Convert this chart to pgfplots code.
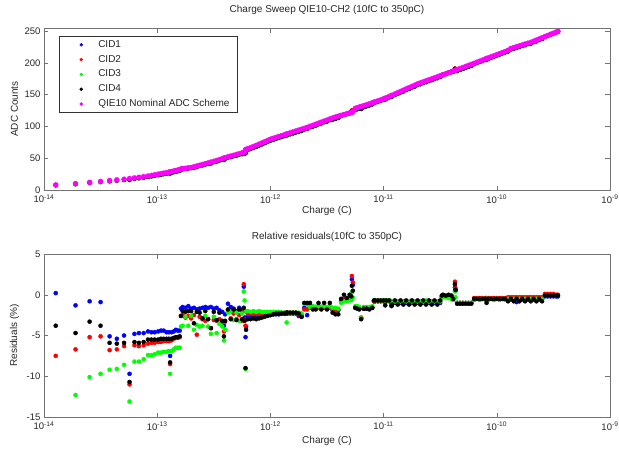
\documentclass[border=0pt]{standalone}
\usepackage{fontspec}
\setmainfont{Liberation Sans}
\usepackage{pgfplots}
\usepackage{pgfplotstable}
\pgfplotsset{compat=1.18}
\definecolor{axgray}{gray}{0.45}
\definecolor{txt}{gray}{0.15}
\definecolor{cidblue}{rgb}{0,0,1}
\definecolor{cidred}{rgb}{1,0,0}
\definecolor{cidgreen}{rgb}{0,1,0}
\definecolor{nommag}{rgb}{1,0,1}

\pgfplotstableread{
x nom a1 a2 a3 a4 r1 r2 r3 r4
1.27e-14 8.0 8.0 7.4 nan 7.7 0.2 -7.5 nan -3.8
1.9e-14 10.0 9.9 9.3 8.8 9.5 -1.3 -6.7 -12.3 -4.7
2.53e-14 12.0 11.9 11.4 10.8 11.6 -0.8 -5.2 -10.1 -3.3
3.16e-14 13.5 13.4 12.8 12.2 13.0 -0.9 -5.1 -9.7 -3.8
3.8e-14 15.0 14.2 14.0 13.6 14.1 -5.1 -6.8 -9.2 -5.9
4.4e-14 16.0 15.1 14.9 14.5 15.0 -5.4 -6.7 -9.1 -6.0
5.1e-14 17.0 16.2 15.9 15.5 16.0 -5.0 -6.3 -8.6 -5.9
5.7e-14 18.0 16.3 16.0 15.6 16.1 -9.7 -11.0 -13.1 -10.7
6.3e-14 19.0 18.1 17.8 17.4 17.9 -4.8 -6.2 -8.2 -5.8
6.9e-14 20.0 19.1 18.7 18.4 18.8 -4.7 -6.3 -8.2 -5.9
7.6e-14 21.0 20.0 19.7 19.3 19.8 -4.7 -6.2 -7.9 -5.8
8.3e-14 22.0 21.0 20.7 20.4 20.8 -4.5 -6.0 -7.4 -5.5
8.9e-14 23.0 21.9 21.6 21.3 21.7 -4.6 -5.9 -7.4 -5.5
9.5e-14 24.0 22.9 22.6 22.2 22.7 -4.6 -5.9 -7.3 -5.5
1.02e-13 25.0 23.9 23.6 23.2 23.6 -4.5 -5.8 -7.1 -5.5
1.08e-13 25.8 24.7 24.3 24.0 24.4 -4.4 -5.8 -7.1 -5.4
1.14e-13 26.6 25.4 25.1 24.7 25.2 -4.4 -5.7 -7.0 -5.4
1.21e-13 27.4 26.1 25.8 25.5 25.9 -4.6 -5.7 -7.0 -5.4
1.27e-13 28.2 26.9 26.6 26.3 26.7 -4.6 -5.7 -6.9 -5.4
1.30e-13 28.6 26.5 26.2 25.8 26.2 -7.5 -8.5 -9.7 -8.3
1.34e-13 29.1 27.8 27.5 27.1 27.5 -4.6 -5.6 -6.9 -5.4
1.40e-13 29.9 28.6 28.3 27.9 28.3 -4.5 -5.4 -6.7 -5.3
1.46e-13 30.7 29.4 29.1 28.7 29.1 -4.3 -5.3 -6.5 -5.2
1.52e-13 31.4 30.0 29.7 29.4 29.8 -4.4 -5.3 -6.5 -5.2
1.58e-13 32.1 30.7 30.4 30.0 30.5 -4.4 -5.2 -6.5 -5.1
1.622e-13 33.2 32.6 32.3 31.9 32.3 -1.7 -2.6 -3.9 -2.6
1.679e-13 33.6 33.1 32.8 32.3 32.9 -1.5 -2.5 -3.8 -2.0
1.778e-13 34.2 33.7 33.2 33.3 33.5 -1.6 -2.8 -2.7 -2.1
1.884e-13 34.9 34.4 34.0 33.6 34.2 -1.4 -2.6 -3.8 -2.0
1.995e-13 35.5 34.9 34.5 34.6 34.8 -1.7 -2.9 -2.6 -2.0
2.113e-13 36.6 36.0 35.7 35.0 35.3 -1.6 -2.5 -4.3 -3.5
2.239e-13 37.8 37.1 35.9 36.4 37.0 -1.8 -4.9 -3.7 -2.1
2.371e-13 39.0 38.3 37.9 37.5 38.1 -1.7 -2.7 -3.9 -2.2
2.512e-13 40.2 39.6 39.0 38.7 39.0 -1.6 -3.0 -3.8 -2.9
2.661e-13 41.4 40.8 40.1 40.3 40.6 -1.5 -3.2 -2.6 -2.0
2.818e-13 42.6 41.9 41.3 40.9 41.3 -1.6 -3.0 -3.9 -3.0
2.985e-13 43.9 43.2 42.1 41.8 42.1 -1.5 -4.1 -4.8 -4.1
3.162e-13 45.2 44.4 43.8 44.0 44.3 -1.7 -3.1 -2.7 -2.1
3.350e-13 46.5 45.8 45.0 44.3 45.1 -1.6 -3.2 -4.7 -3.1
3.548e-13 47.9 47.0 46.5 46.2 46.8 -1.9 -3.0 -3.6 -2.2
3.758e-13 49.3 48.3 47.7 47.4 47.7 -2.1 -3.3 -3.9 -3.2
3.89e-13 50.2 48.3 47.9 47.4 47.6 -3.8 -4.5 -5.6 -5.1
3.981e-13 51.0 49.8 49.3 48.8 49.4 -2.4 -3.3 -4.3 -3.2
4.217e-13 52.3 51.7 51.3 51.2 51.4 -1.1 -2.0 -2.2 -1.8
4.467e-13 53.5 52.7 51.9 52.4 51.9 -1.5 -2.9 -2.0 -3.0
4.732e-13 54.7 53.8 53.4 53.0 53.7 -1.7 -2.3 -3.1 -1.8
5.012e-13 56.0 54.9 54.3 54.8 54.3 -2.0 -3.0 -2.2 -3.1
5.309e-13 57.2 56.3 55.8 55.4 56.2 -1.6 -2.5 -3.2 -1.8
5.623e-13 58.4 57.3 56.5 57.1 56.6 -1.9 -3.2 -2.3 -3.0
5.82e-13 59.2 59.8 60.0 59.4 58.3 1.0 1.3 0.4 -1.6
5.92e-13 59.5 57.8 58.3 59.1 57.6 -2.8 -2.0 -0.7 -3.2
6.03e-13 63.5 60.2 61.1 57.7 57.8 -5.2 -3.8 -9.1 -9.0
6.10e-13 64.0 61.5 62.1 62.7 61.2 -3.9 -3.0 -2.0 -4.3
6.310e-13 65.0 63.3 63.5 63.7 63.1 -2.6 -2.3 -2.0 -3.0
6.683e-13 66.7 64.9 65.2 65.3 64.7 -2.7 -2.3 -2.1 -3.0
7.079e-13 68.5 66.7 66.9 67.1 66.5 -2.6 -2.4 -2.0 -2.9
7.499e-13 70.3 68.4 68.7 68.8 68.2 -2.7 -2.3 -2.1 -3.0
7.943e-13 72.2 70.3 70.5 70.8 70.1 -2.6 -2.4 -2.0 -2.9
8.414e-13 74.1 72.1 72.4 72.5 72.0 -2.7 -2.3 -2.1 -2.8
8.913e-13 76.0 74.0 74.2 74.4 73.9 -2.6 -2.4 -2.1 -2.7
9.441e-13 78.0 76.1 76.2 76.4 76.0 -2.5 -2.3 -2.1 -2.6
1.000e-12 80.0 78.0 78.2 78.3 78.0 -2.5 -2.3 -2.1 -2.5
1.059e-12 81.4 79.4 79.5 79.7 79.4 -2.4 -2.3 -2.1 -2.4
1.122e-12 82.9 80.9 81.0 81.2 81.0 -2.4 -2.3 -2.1 -2.3
1.189e-12 84.3 82.3 82.4 82.5 82.4 -2.4 -2.2 -2.1 -2.3
1.259e-12 85.7 83.7 83.8 83.8 83.7 -2.3 -2.2 -2.2 -2.3
1.334e-12 87.1 85.1 85.2 85.2 85.1 -2.3 -2.2 -2.2 -2.3
1.393e-12 88.2 86.2 86.3 85.2 86.3 -2.3 -2.2 -3.4 -2.2
1.413e-12 88.6 86.6 86.7 86.7 86.7 -2.3 -2.2 -2.2 -2.2
1.496e-12 90.0 87.9 88.0 88.0 88.0 -2.3 -2.2 -2.2 -2.2
1.585e-12 91.4 89.3 89.4 89.4 89.4 -2.3 -2.2 -2.2 -2.2
1.679e-12 92.9 90.8 90.9 90.9 90.9 -2.3 -2.2 -2.2 -2.2
1.778e-12 94.3 91.8 92.0 92.2 92.1 -2.6 -2.4 -2.2 -2.3
1.884e-12 95.7 93.1 93.3 93.5 93.1 -2.7 -2.5 -2.3 -2.7
1.995e-12 97.0 95.4 95.3 95.9 96.0 -1.6 -1.8 -1.1 -1.0
2.113e-12 98.6 96.1 96.8 97.4 97.6 -2.5 -1.8 -1.2 -1.0
2.239e-12 100.3 98.9 98.7 98.8 99.3 -1.4 -1.6 -1.5 -1.0
2.371e-12 101.9 100.4 100.3 100.5 100.1 -1.5 -1.6 -1.4 -1.8
2.512e-12 103.5 101.9 101.7 101.9 101.6 -1.5 -1.7 -1.5 -1.8
2.661e-12 105.2 103.7 103.5 103.7 104.1 -1.4 -1.6 -1.4 -1.0
2.818e-12 106.8 105.2 105.1 105.2 104.9 -1.5 -1.6 -1.5 -1.8
2.985e-12 108.5 106.9 106.8 107.0 107.4 -1.5 -1.6 -1.4 -1.0
3.162e-12 110.1 108.3 108.2 108.4 108.1 -1.6 -1.7 -1.5 -1.8
3.350e-12 111.8 110.1 110.0 110.2 110.7 -1.5 -1.6 -1.4 -1.0
3.548e-12 113.4 111.2 111.4 111.6 110.9 -1.9 -1.8 -1.6 -2.2
3.758e-12 114.9 112.7 112.7 113.1 112.1 -1.9 -1.9 -1.6 -2.4
3.981e-12 116.2 114.0 114.1 114.2 113.4 -1.9 -1.8 -1.7 -2.4
4.217e-12 117.5 116.6 116.8 116.3 116.9 -0.8 -0.6 -1.0 -0.5
4.467e-12 118.8 118.1 118.2 117.8 118.8 -0.6 -0.5 -0.8 0.0
4.732e-12 120.1 119.4 119.5 119.1 119.6 -0.6 -0.5 -0.8 -0.4
5.012e-12 121.4 120.7 120.8 120.6 121.4 -0.6 -0.5 -0.7 0.0
5.19e-12 122.2 121.5 121.6 121.5 122.0 -0.6 -0.5 -0.6 -0.2
5.25e-12 122.5 124.8 125.3 122.9 123.8 1.9 2.3 0.3 1.1
5.35e-12 123.0 124.5 124.8 122.5 123.6 1.2 1.5 -0.4 0.5
5.623e-12 128.5 126.4 126.6 126.7 126.4 -1.6 -1.5 -1.4 -1.6
5.85e-12 129.5 127.6 127.4 127.7 127.3 -1.5 -1.6 -1.4 -1.7
6.10e-12 130.5 128.3 128.3 128.5 128.2 -1.7 -1.7 -1.5 -1.8
6.34e-12 131.5 127.7 127.8 127.7 127.6 -2.9 -2.8 -2.9 -3.0
6.683e-12 132.8 130.5 130.5 130.8 130.5 -1.7 -1.7 -1.5 -1.7
7.079e-12 134.3 132.0 132.2 132.3 132.0 -1.7 -1.6 -1.5 -1.7
7.499e-12 135.8 133.5 133.5 133.8 133.4 -1.7 -1.7 -1.5 -1.8
7.943e-12 137.3 135.1 135.1 135.4 135.1 -1.6 -1.6 -1.4 -1.6
8.22e-12 138.2 137.1 137.1 137.2 137.2 -0.8 -0.8 -0.7 -0.7
8.414e-12 138.8 137.7 137.7 137.8 137.8 -0.8 -0.8 -0.7 -0.7
8.913e-12 140.3 139.2 139.2 139.3 139.3 -0.8 -0.8 -0.7 -0.7
9.441e-12 141.8 140.7 140.7 140.8 140.8 -0.8 -0.8 -0.7 -0.7
1.000e-11 143.5 142.4 142.4 142.5 142.5 -0.8 -0.8 -0.7 -0.7
1.035e-11 144.5 143.3 143.3 143.5 142.6 -0.8 -0.8 -0.7 -1.3
1.059e-11 145.3 144.1 144.1 144.3 144.3 -0.8 -0.8 -0.7 -0.7
1.122e-11 147.3 146.1 146.1 146.3 146.3 -0.8 -0.8 -0.7 -0.7
1.175e-11 148.8 146.7 147.5 147.6 146.9 -1.4 -0.9 -0.8 -1.3
1.189e-11 149.2 147.7 148.0 148.0 147.4 -1.0 -0.8 -0.8 -1.2
1.259e-11 151.2 149.7 149.8 150.0 150.1 -1.0 -0.9 -0.8 -0.7
1.334e-11 153.2 151.7 152.0 152.0 151.4 -1.0 -0.8 -0.8 -1.2
1.413e-11 155.2 153.6 153.8 154.0 154.1 -1.0 -0.9 -0.8 -0.7
1.496e-11 157.1 155.4 155.8 155.8 155.2 -1.1 -0.8 -0.8 -1.2
1.585e-11 159.1 157.5 157.8 157.8 158.0 -1.0 -0.8 -0.8 -0.7
1.679e-11 161.1 159.3 159.6 159.8 159.2 -1.1 -0.9 -0.8 -1.2
1.778e-11 163.0 161.4 161.7 161.7 161.9 -1.0 -0.8 -0.8 -0.7
1.884e-11 165.0 163.4 163.5 163.7 163.0 -1.0 -0.9 -0.8 -1.2
1.995e-11 167.0 165.3 165.7 165.7 165.8 -1.0 -0.8 -0.8 -0.7
2.113e-11 168.6 166.7 167.3 167.3 166.6 -1.1 -0.8 -0.8 -1.2
2.239e-11 170.2 168.5 168.7 168.8 169.0 -1.0 -0.9 -0.8 -0.7
2.371e-11 171.8 170.1 170.4 170.6 169.7 -1.0 -0.8 -0.7 -1.2
2.512e-11 173.4 171.7 171.8 172.0 172.2 -1.0 -0.9 -0.8 -0.7
2.661e-11 175.0 173.3 173.6 173.6 172.9 -1.0 -0.8 -0.8 -1.2
2.818e-11 176.6 174.8 175.2 175.2 175.4 -1.0 -0.8 -0.8 -0.7
2.985e-11 178.2 176.4 176.6 176.8 176.1 -1.0 -0.9 -0.8 -1.2
3.162e-11 179.8 178.0 178.4 178.4 178.5 -1.0 -0.8 -0.8 -0.7
3.27e-11 180.8 180.3 180.4 180.3 180.6 -0.3 -0.2 -0.3 -0.1
3.350e-11 181.4 181.0 181.0 180.9 181.4 -0.2 -0.2 -0.3 0.0
3.548e-11 183.0 182.6 182.6 182.5 182.8 -0.2 -0.2 -0.3 -0.1
3.758e-11 184.7 184.3 184.3 184.0 184.7 -0.2 -0.2 -0.4 0.0
3.981e-11 186.3 185.7 185.4 185.4 186.1 -0.3 -0.5 -0.5 -0.1
4.12e-11 187.3 186.4 186.2 186.2 186.4 -0.5 -0.6 -0.6 -0.5
4.27e-11 188.3 190.0 191.3 189.1 190.7 0.9 1.6 0.4 1.3
4.32e-11 188.6 189.5 190.1 188.0 189.7 0.5 0.8 -0.3 0.6
4.467e-11 189.5 187.6 187.6 187.6 187.4 -1.0 -1.0 -1.0 -1.1
4.732e-11 191.2 189.3 189.3 189.3 189.1 -1.0 -1.0 -1.0 -1.1
5.012e-11 192.8 190.9 190.9 190.9 190.7 -1.0 -1.0 -1.0 -1.1
5.309e-11 194.5 192.6 192.6 192.6 192.4 -1.0 -1.0 -1.0 -1.1
5.623e-11 196.2 194.2 194.2 194.2 194.0 -1.0 -1.0 -1.0 -1.1
5.957e-11 197.8 195.8 195.8 195.8 195.6 -1.0 -1.0 -1.0 -1.1
6.310e-11 199.5 198.3 198.7 198.3 198.5 -0.6 -0.4 -0.6 -0.5
6.683e-11 201.2 200.2 200.4 200.2 200.2 -0.5 -0.4 -0.5 -0.5
7.079e-11 202.9 201.7 202.1 201.7 201.9 -0.6 -0.4 -0.6 -0.5
7.499e-11 204.6 203.6 203.8 203.6 203.6 -0.5 -0.4 -0.5 -0.5
7.943e-11 206.3 205.1 205.5 205.1 205.3 -0.6 -0.4 -0.6 -0.5
8.13e-11 207.0 206.0 206.2 206.0 204.9 -0.5 -0.4 -0.5 -1.0
8.414e-11 208.0 206.8 207.2 206.8 207.0 -0.6 -0.4 -0.6 -0.5
8.913e-11 209.6 208.6 208.8 208.6 208.6 -0.5 -0.4 -0.5 -0.5
9.441e-11 211.3 210.0 210.5 210.0 210.2 -0.6 -0.4 -0.6 -0.5
1.000e-10 213.0 212.0 212.1 212.0 212.0 -0.5 -0.4 -0.5 -0.5
1.059e-10 214.7 213.4 213.8 213.4 213.6 -0.6 -0.4 -0.6 -0.5
1.122e-10 216.4 215.3 215.5 215.3 215.3 -0.5 -0.4 -0.5 -0.5
1.189e-10 218.1 216.8 217.2 216.8 217.0 -0.6 -0.4 -0.6 -0.5
1.259e-10 220.0 218.7 219.3 218.9 218.2 -0.6 -0.3 -0.5 -0.8
1.334e-10 222.8 221.5 222.1 221.7 221.7 -0.6 -0.3 -0.5 -0.5
1.413e-10 224.2 222.9 223.5 223.1 222.4 -0.6 -0.3 -0.5 -0.8
1.496e-10 225.6 223.6 224.9 224.5 224.5 -0.9 -0.3 -0.5 -0.5
1.585e-10 226.9 225.5 226.2 225.8 225.1 -0.6 -0.3 -0.5 -0.8
1.679e-10 228.3 226.9 227.6 227.2 227.2 -0.6 -0.3 -0.5 -0.5
1.778e-10 229.7 228.3 229.0 228.6 227.9 -0.6 -0.3 -0.5 -0.8
1.884e-10 231.1 229.7 230.4 229.9 229.9 -0.6 -0.3 -0.5 -0.5
1.995e-10 232.4 231.0 231.7 231.2 230.5 -0.6 -0.3 -0.5 -0.8
2.113e-10 234.2 232.8 233.5 233.0 233.0 -0.6 -0.3 -0.5 -0.5
2.239e-10 236.0 234.6 235.3 234.8 234.1 -0.6 -0.3 -0.5 -0.8
2.371e-10 237.8 236.4 237.1 236.6 236.6 -0.6 -0.3 -0.5 -0.5
2.512e-10 239.6 238.2 238.9 238.4 237.7 -0.6 -0.3 -0.5 -0.8
2.661e-10 241.4 240.9 241.6 241.2 241.2 -0.2 0.1 -0.1 -0.1
2.818e-10 243.2 242.7 243.4 243.0 243.0 -0.2 0.1 -0.1 -0.1
2.985e-10 245.0 244.5 245.2 244.8 244.8 -0.2 0.1 -0.1 -0.1
3.162e-10 246.8 246.3 247.0 246.6 246.6 -0.2 0.1 -0.1 -0.1
3.350e-10 248.6 248.1 248.6 248.4 248.4 -0.2 0.0 -0.1 -0.1
3.47e-10 249.7 249.2 249.7 249.5 249.5 -0.2 0.0 -0.1 -0.1
}\data

\begin{document}
\begin{tikzpicture}
\useasboundingbox (-44pt,28pt) rectangle (575pt,-420pt);
\begin{axis}[
  scale only axis, width=566pt, height=162pt, at={(0pt,0pt)}, anchor=north west,
  xmode=log, log basis x=10, xmin=1e-14, xmax=1e-9,
  xtick={1e-14,1e-13,1e-12,1e-11,1e-10,1e-9},
  xticklabels={10\textsuperscript{-14},10\textsuperscript{-13},10\textsuperscript{-12},10\textsuperscript{-11},10\textsuperscript{-10},10\textsuperscript{-9}},
  xticklabel style={yshift=-1pt},
  ymin=0, ymax=255, ytick={0,50,100,150,200,250},
  tick align=inside,
  major tick length=4.5pt, minor tick length=2.5pt,
  tick style={axgray, line width=0.5pt},
  axis line style={axgray, line width=0.7pt},
  tick label style={text=txt, font=\fontsize{9.5}{11}\selectfont},
  /pgf/number format/assume math mode=true,
  title={Charge Sweep QIE10-CH2 (10fC to 350pC)},
  title style={text=txt, font=\fontsize{10}{12}\selectfont, at={(axis description cs:0.5,1)}, anchor=center, yshift=12pt},
  xlabel={Charge (C)}, ylabel={ADC Counts},
  label style={text=txt, font=\fontsize{10}{12}\selectfont},
  xlabel style={at={(axis description cs:0.5,0)}, anchor=center, yshift=-20.5pt},
  ylabel style={at={(axis description cs:-0.052,0.5)}, anchor=center},
  legend cell align=left,
  legend image code/.code={\path[draw=none,fill=none] (0pt,0pt) -- (28pt,0pt);\draw[#1,mark size=1.4pt] plot coordinates {(14pt,0pt)};},
  legend style={at={(axis description cs:0.0265,0.9506)}, anchor=north west, draw=black!80, line width=0.6pt, fill=white,
    inner xsep=8pt, inner ysep=3.5pt, row sep=4.8pt, column sep=3pt,
    font=\fontsize{10}{12}\selectfont, text=txt,
    nodes={inner sep=0pt, text height=7.5pt, text depth=2.5pt}},
]
\addplot[only marks, mark=*, mark size=2.05pt, color=cidblue] table[x=x, y=a1] {\data};
\addplot[only marks, mark=*, mark size=2.05pt, color=cidred] table[x=x, y=a2] {\data};
\addplot[only marks, mark=*, mark size=2.05pt, color=cidgreen] table[x=x, y=a3] {\data};
\addplot[only marks, mark=*, mark size=2.05pt, color=black] table[x=x, y=a4] {\data};
\addplot[only marks, mark=*, mark size=2.5pt, color=nommag] table[x=x, y=nom] {\data};
\legend{CID1,CID2,CID3,CID4,QIE10 Nominal ADC Scheme}
\end{axis}

\begin{axis}[
  scale only axis, width=566pt, height=163pt, at={(0pt,-226pt)}, anchor=north west,
  xmode=log, log basis x=10, xmin=1e-14, xmax=1e-9,
  xtick={1e-14,1e-13,1e-12,1e-11,1e-10,1e-9},
  xticklabels={10\textsuperscript{-14},10\textsuperscript{-13},10\textsuperscript{-12},10\textsuperscript{-11},10\textsuperscript{-10},10\textsuperscript{-9}},
  xticklabel style={yshift=-1pt},
  ymin=-15, ymax=5, ytick={-15,-10,-5,0,5},
  tick align=inside,
  major tick length=4.5pt, minor tick length=2.5pt,
  tick style={axgray, line width=0.5pt},
  axis line style={axgray, line width=0.7pt},
  tick label style={text=txt, font=\fontsize{9.5}{11}\selectfont},
  /pgf/number format/assume math mode=true,
  title={Relative residuals(10fC to 350pC)},
  title style={text=txt, font=\fontsize{10}{12}\selectfont, at={(axis description cs:0.5,1)}, anchor=center, yshift=11pt},
  xlabel={Charge (C)}, ylabel={Residuals (\%)},
  label style={text=txt, font=\fontsize{10}{12}\selectfont},
  xlabel style={at={(axis description cs:0.5,0)}, anchor=center, yshift=-24pt},
  ylabel style={at={(axis description cs:-0.052,0.5)}, anchor=center},
]
\addplot[only marks, mark=*, mark size=2.05pt, color=cidblue] table[x=x, y=r1] {\data};
\addplot[only marks, mark=*, mark size=2.05pt, color=cidred] table[x=x, y=r2] {\data};
\addplot[only marks, mark=*, mark size=2.05pt, color=cidgreen] table[x=x, y=r3] {\data};
\addplot[only marks, mark=*, mark size=2.05pt, color=black] table[x=x, y=r4] {\data};
\end{axis}
\end{tikzpicture}
\end{document}
